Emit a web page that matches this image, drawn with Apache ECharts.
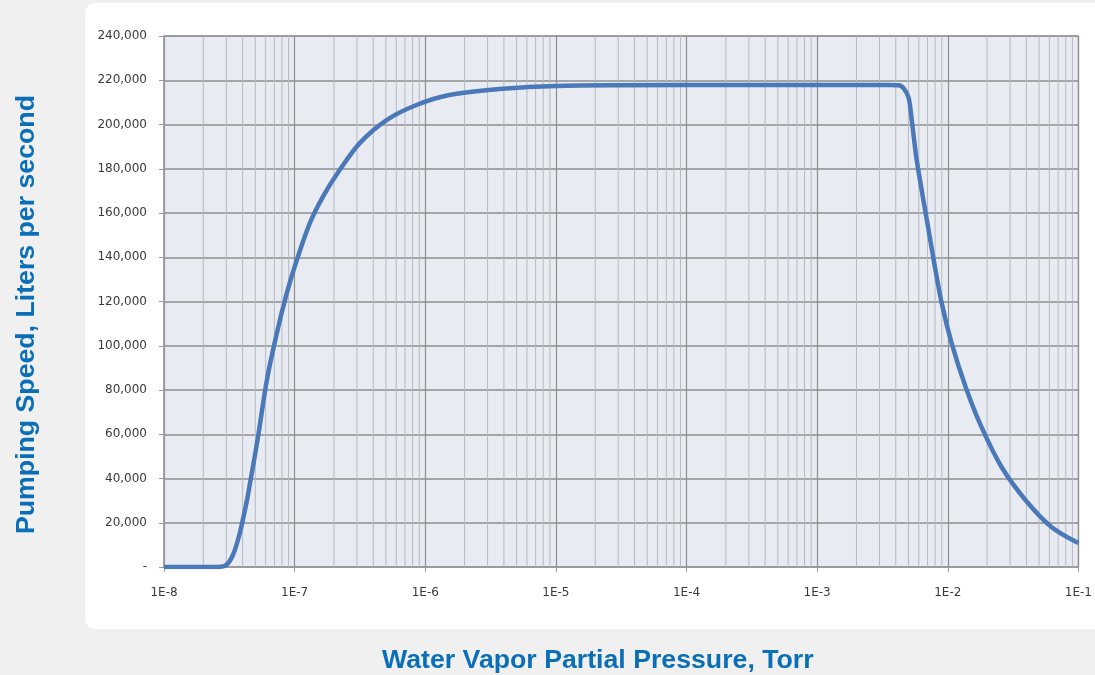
<!DOCTYPE html>
<html><head><meta charset="utf-8">
<script src="https://cdn.jsdelivr.net/npm/echarts@6/dist/echarts.min.js"></script>
<style>
html,body{margin:0;padding:0;background:#f0f0f0;width:1095px;height:675px;overflow:hidden;}
#card{position:absolute;left:85px;top:3px;width:1030px;height:626px;background:#fff;border-radius:10px;}
#c{position:absolute;left:0;top:0;width:1095px;height:675px;}
</style></head>
<body><div id="card"></div><div id="c"></div>
<script>
// Water vapor partial pressure (Torr)
const pressure = [1e-8, 2e-8, 2.37e-8, 2.92e-8, 3.37e-8, 3.81e-8, 4.31e-8, 4.6e-8, 5.2e-8, 6.13e-8, 7.31e-8, 8.71e-8, 1.04e-7, 1.31e-7, 1.64e-7, 2.21e-7, 3.15e-7, 5.06e-7, 8.57e-7, 1.53e-6, 3.7e-6, 1e-5, 1e-4, 1e-3, 3.53e-3, 4.21e-3, 4.6e-3, 5.02e-3, 5.30e-3, 5.78e-3, 6.77e-3, 7.80e-3, 8.98e-3, 1.07e-2, 1.37e-2, 1.81e-2, 2.58e-2, 3.93e-2, 6.21e-2, 0.1];
// Pumping speed (liters per second)
const speed = [0, 0, 0, 500, 5400, 15500, 30000, 39300, 57400, 84500, 105800, 123800, 138800, 155500, 167200, 179400, 191600, 202000, 208800, 213300, 216000, 217400, 217800, 217800, 217800, 217700, 216300, 212000, 202000, 184000, 160000, 138800, 119300, 101200, 81400, 63300, 45200, 30300, 18100, 10800];
const xTickLabels = ['1E-8','1E-7','1E-6','1E-5','1E-4','1E-3','1E-2','1E-1'];
const yTitle = 'Pumping Speed, Liters per second';
const xTitle = 'Water Vapor Partial Pressure, Torr';
const minorMantissas = [2, 3, 4, 5, 6, 7, 8, 9];
const decades = [-8, -7, -6, -5, -4, -3, -2];

// minor vertical grid lines (2..9 x each decade), drawn as broken line segments through the log axis
const minorGrid = [];
decades.forEach(e => minorMantissas.forEach(m => {
  const x = m * Math.pow(10, e);
  minorGrid.push([x, 0], [x, 240000], [x, '-']);
}));

const chart = echarts.init(document.getElementById('c'));
chart.setOption({
  animation: false,
  grid: {left: 164, right: 15, top: 36, bottom: 108, show: true, backgroundColor: '#e8ebf1', borderColor: '#9a9a9a', borderWidth: 1},
  xAxis: {
    type: 'log', logBase: 10, min: 1e-8, max: 0.1,
    axisLine: {show: true, lineStyle: {color: '#9a9a9a', width: 1.5}},
    axisTick: {show: true, length: 5, lineStyle: {color: '#9a9a9a'}},
    axisLabel: {margin: 20, fontSize: 12, color: '#3a3a3a', fontFamily: '"DejaVu Sans", sans-serif',
      formatter: v => xTickLabels[Math.round(Math.log10(v)) + 8]},
    splitLine: {show: true, lineStyle: {color: '#8e8e8e', width: 1.2}}
  },
  yAxis: {
    type: 'value', min: 0, max: 240000, interval: 20000,
    axisLine: {show: true, lineStyle: {color: '#9a9a9a', width: 1.5}},
    axisTick: {show: true, length: 5, lineStyle: {color: '#9a9a9a'}},
    axisLabel: {margin: 17, fontSize: 12, color: '#3a3a3a', fontFamily: '"DejaVu Sans", sans-serif',
      formatter: v => v === 0 ? '-' : v.toLocaleString('en-US')},
    splitLine: {show: true, lineStyle: {color: '#8e8e8e', width: 1.6}}
  },
  graphic: [
    {type: 'text', left: 382, top: 647, style: {text: xTitle, fill: '#0b6fb8', font: 'bold 26.7px "Liberation Sans", Arial, sans-serif'}},
    {type: 'text', x: 13, y: 534, rotation: Math.PI / 2, style: {text: yTitle, fill: '#0b6fb8', font: 'bold 26.7px "Liberation Sans", Arial, sans-serif', verticalAlign: 'top'}}
  ],
  series: [
    {type: 'line', data: minorGrid, silent: true, z: 1, showSymbol: false, connectNulls: false,
      lineStyle: {color: '#b6b9bf', width: 1}},
    {type: 'line', z: 3, data: pressure.map((p, i) => [p, speed[i]]), showSymbol: false, smooth: 0.3,
      lineStyle: {color: '#4a78b8', width: 4.5}}
  ]
});
</script></body></html>
